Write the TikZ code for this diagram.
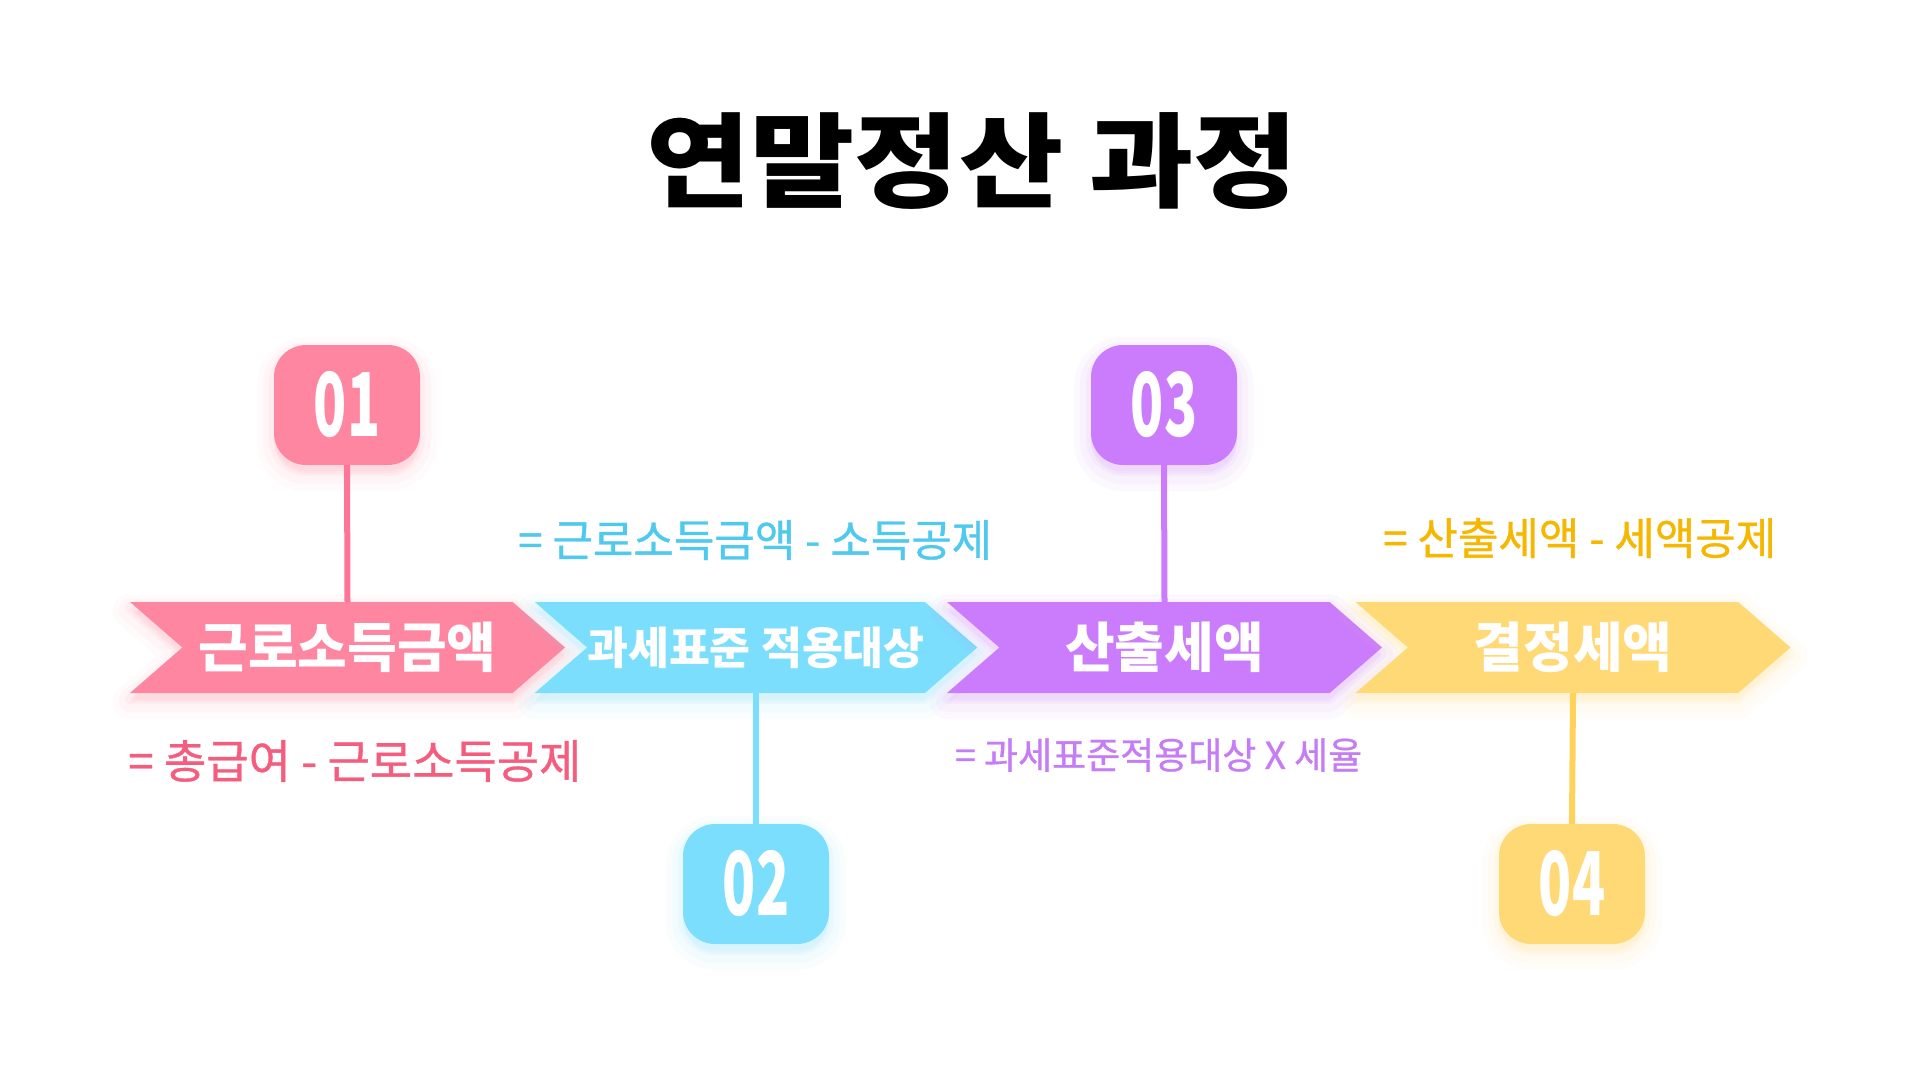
\documentclass[tikz,border=0pt]{standalone}
\usepackage{fontspec}
\setmainfont{Noto Sans CJK KR}
\newfontfamily\formulafont{Noto Sans CJK KR}[FakeBold=0.8]
\usetikzlibrary{shapes.symbols}
\definecolor{pinkbar}{HTML}{FF86A0}
\definecolor{bluebar}{HTML}{7ADEFC}
\definecolor{purplebar}{HTML}{CA7CFC}
\definecolor{yellowbar}{HTML}{FFD976}
\definecolor{pinkline}{HTML}{FF7598}
\definecolor{yellowline}{HTML}{FFD25E}
\definecolor{pinktext}{HTML}{F55D7F}
\definecolor{bluetext}{HTML}{4FC9EE}
\definecolor{purpletext}{HTML}{C57CF5}
\definecolor{yellowtext}{HTML}{F5B700}
\tikzset{
  glow/.style={
    preaction={draw=#1,fill=#1,line width=34pt,line join=round,opacity=.04,transform canvas={yshift=-9pt}},
    preaction={draw=#1,fill=#1,line width=22pt,line join=round,opacity=.05,transform canvas={yshift=-8pt}},
    preaction={draw=#1,fill=#1,line width=10pt,line join=round,opacity=.07,transform canvas={yshift=-6pt}}},
  bar/.style={shape=signal,signal from=west,signal to=east,signal pointer angle=82,
    minimum width=435pt,minimum height=91pt,inner sep=0pt,glow=#1,fill=#1,text=white,
    font=\bfseries\fontsize{54}{54}\selectfont},
  badge/.style={rectangle,rounded corners=32pt,minimum width=146pt,minimum height=120pt,
    inner sep=0pt,glow=#1,fill=#1,text=white,font=\bfseries\fontsize{88}{88}\selectfont},
  stem/.style={draw=#1,line width=6pt},
  formula/.style={anchor=west,inner sep=0pt,text=#1,font=\formulafont\fontsize{44}{44}\selectfont}
}
\newcommand{\digits}[1]{\scalebox{0.62}[1]{#1}}
\begin{document}
\begin{tikzpicture}[x=1pt,y=-1pt]
  \fill[white] (0,0) rectangle (1920,1080);
  \useasboundingbox (0,0) rectangle (1920,1080);
  \node[inner sep=0pt,font=\bfseries\fontsize{103}{103}\selectfont] (title) at (972,161) {\scalebox{1.1}[1]{연말정산 과정}};
  \node[bar=pinkbar] (c1) at (347.5,647.5) {근로소득금액};
  \node[bar=bluebar,font=\bfseries\fontsize{44.5}{44.5}\selectfont] (c2) at (756,647.5) {과세표준 적용대상};
  \node[bar=purplebar] (c3) at (1164.5,647.5) {산출세액};
  \node[bar=yellowbar] (c4) at (1573,647.5) {결정세액};
  \node[badge=pinkbar] (b1) at (347,405) {\digits{01}};
  \node[badge=bluebar] (b2) at (756,884) {\digits{02}};
  \node[badge=purplebar] (b3) at (1164,405) {\digits{03}};
  \node[badge=yellowbar] (b4) at (1572,884) {\digits{04}};
  \draw[stem=pinkline] (b1.south) -- (c1.north);
  \draw[stem=bluebar] (c2.south) -- (b2.north);
  \draw[stem=purplebar] (b3.south) -- (c3.north);
  \draw[stem=yellowline] (c4.south) -- (b4.north);
  \node[formula=pinktext,font=\formulafont\fontsize{46}{46}\selectfont] (f1) at (128,761) {= 총급여 - 근로소득공제};
  \node[formula=bluetext] (f2) at (518,540) {= 근로소득금액 - 소득공제};
  \node[formula=purpletext,font=\formulafont\fontsize{37}{37}\selectfont] (f3) at (955,755) {= 과세표준적용대상 X 세율};
  \node[formula=yellowtext] (f4) at (1383,538) {= 산출세액 - 세액공제};
\end{tikzpicture}
\end{document}
